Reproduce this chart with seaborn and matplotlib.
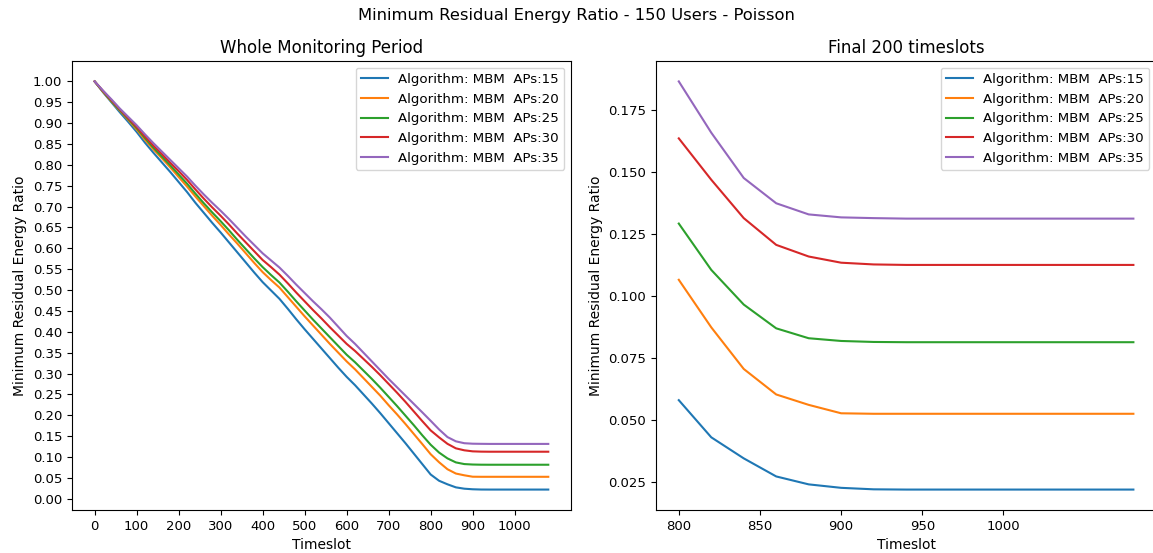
import numpy as np
import pandas as pd
import matplotlib
matplotlib.use("Agg")
import matplotlib.pyplot as plt
import seaborn as sns

timeslots = list(range(0, 1081, 20))

aps_15 = [1.000, 0.974, 0.950, 0.926, 0.903, 0.879, 0.853, 0.829, 0.806, 0.783,
          0.759, 0.735, 0.709, 0.685, 0.661, 0.638, 0.614, 0.590, 0.566, 0.542,
          0.519, 0.499, 0.479, 0.455, 0.430, 0.406, 0.383, 0.360, 0.337, 0.314,
          0.292, 0.272, 0.250, 0.228, 0.205, 0.181, 0.157, 0.133, 0.108, 0.083,
          0.0580, 0.0430, 0.0345, 0.0272, 0.0240, 0.0226, 0.0220, 0.0219, 0.0219,
          0.0219, 0.0219, 0.0219, 0.0219, 0.0219, 0.0219]

aps_20 = [1.000, 0.975, 0.952, 0.930, 0.908, 0.885, 0.860, 0.837, 0.816, 0.794,
          0.771, 0.748, 0.724, 0.701, 0.678, 0.656, 0.633, 0.611, 0.588, 0.565,
          0.543, 0.524, 0.506, 0.483, 0.460, 0.437, 0.415, 0.393, 0.371, 0.350,
          0.329, 0.310, 0.289, 0.268, 0.247, 0.224, 0.202, 0.179, 0.155, 0.131,
          0.1066, 0.0874, 0.0706, 0.0603, 0.0561, 0.0527, 0.0525, 0.0525, 0.0525,
          0.0525, 0.0525, 0.0525, 0.0525, 0.0525, 0.0525]

aps_25 = [1.000, 0.976, 0.953, 0.931, 0.910, 0.888, 0.864, 0.841, 0.820, 0.799,
          0.777, 0.755, 0.731, 0.708, 0.686, 0.665, 0.643, 0.620, 0.598, 0.576,
          0.555, 0.536, 0.518, 0.496, 0.473, 0.451, 0.429, 0.408, 0.387, 0.366,
          0.345, 0.327, 0.307, 0.287, 0.266, 0.244, 0.222, 0.199, 0.176, 0.152,
          0.1293, 0.1106, 0.0966, 0.0870, 0.0830, 0.0819, 0.0815, 0.0814, 0.0814,
          0.0814, 0.0814, 0.0814, 0.0814, 0.0814, 0.0814]

aps_30 = [1.000, 0.977, 0.955, 0.933, 0.912, 0.891, 0.868, 0.846, 0.826, 0.805,
          0.785, 0.764, 0.741, 0.719, 0.698, 0.678, 0.657, 0.635, 0.614, 0.593,
          0.572, 0.555, 0.537, 0.516, 0.494, 0.473, 0.452, 0.432, 0.411, 0.391,
          0.371, 0.354, 0.335, 0.316, 0.296, 0.275, 0.254, 0.232, 0.209, 0.186,
          0.1637, 0.1470, 0.1315, 0.1207, 0.1160, 0.1135, 0.1128, 0.1126, 0.1126,
          0.1126, 0.1126, 0.1126, 0.1126, 0.1126, 0.1126]

aps_35 = [1.000, 0.978, 0.957, 0.935, 0.915, 0.895, 0.873, 0.852, 0.832, 0.812,
          0.792, 0.772, 0.750, 0.729, 0.709, 0.690, 0.670, 0.649, 0.628, 0.608,
          0.588, 0.571, 0.554, 0.534, 0.513, 0.493, 0.473, 0.454, 0.434, 0.412,
          0.390, 0.371, 0.350, 0.329, 0.308, 0.287, 0.267, 0.247, 0.227, 0.207,
          0.1867, 0.1660, 0.1477, 0.1375, 0.1330, 0.1318, 0.1315, 0.1313, 0.1313,
          0.1313, 0.1313, 0.1313, 0.1313, 0.1313, 0.1313]

series_labels = ["Algorithm: MBM  APs:15", "Algorithm: MBM  APs:20",
                 "Algorithm: MBM  APs:25", "Algorithm: MBM  APs:30",
                 "Algorithm: MBM  APs:35"]
series_values = [aps_15, aps_20, aps_25, aps_30, aps_35]

left_xticks = list(range(0, 1001, 100))
left_yticks = [round(v, 2) for v in np.arange(0, 1.0001, 0.05)]
right_xticks = [800, 850, 900, 950, 1000]
final_start = 800

plt.rcParams['font.family'] = ['DejaVu Sans']
plt.rcParams['font.size'] = 9.5

frames = []
for lab, vals in zip(series_labels, series_values):
    frames.append(pd.DataFrame({"Timeslot": timeslots, "ratio": vals, "series": lab}))
df = pd.concat(frames, ignore_index=True)
df_final = df[df["Timeslot"] >= final_start]

palette = sns.color_palette("tab10", 5)

fig = plt.figure(figsize=(11.53, 5.53), dpi=100)
ax1 = fig.add_axes([0.0624, 0.0778, 0.4328, 0.8119])
ax2 = fig.add_axes([0.569, 0.0778, 0.4337, 0.8119])

for ax, data in ((ax1, df), (ax2, df_final)):
    sns.lineplot(data=data, x="Timeslot", y="ratio", hue="series",
                 hue_order=series_labels, palette=palette, ax=ax, linewidth=1.5)
    ax.set_xlabel("Timeslot", fontsize=10)
    ax.set_ylabel("Minimum Residual Energy Ratio", fontsize=10)
    h, l = ax.get_legend_handles_labels()
    ax.legend(h, l, loc="upper right", fontsize=9.6)

ax1.set_xticks(left_xticks)
ax1.set_yticks(left_yticks)
ax1.set_yticklabels([f"{v:.2f}" for v in left_yticks])
ax2.set_xticks(right_xticks)

ax1.set_title("Whole Monitoring Period", fontsize=12)
ax2.set_title("Final 200 timeslots", fontsize=12)
fig.suptitle("Minimum Residual Energy Ratio - 150 Users - Poisson", fontsize=11.8, y=0.985)

fig.savefig("out.png", dpi=100)
